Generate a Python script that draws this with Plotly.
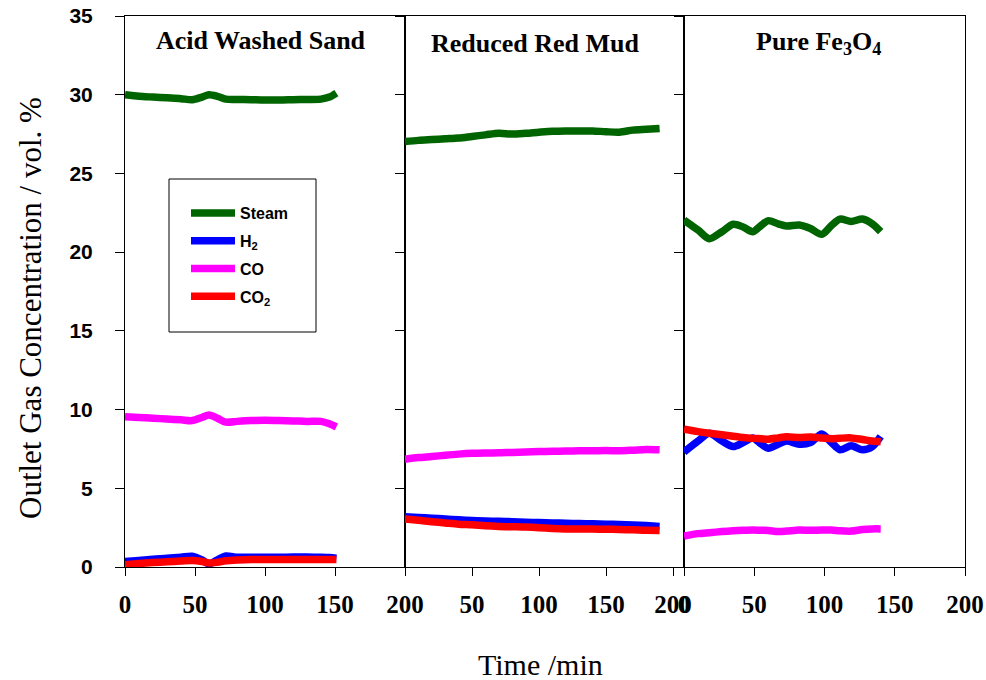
import plotly.graph_objects as go

# ---------------- data ----------------
series_names = ["Steam", "H<sub>2</sub>", "CO", "CO<sub>2</sub>"]
series_colors = ["#006400", "#0000FF", "#FF00FF", "#FF0000"]
panel_titles = ["<b>Acid Washed Sand</b>", "<b>Reduced Red Mud</b>",
                "<b>Pure Fe<sub>3</sub>O<sub>4</sub></b>"]
x_tick_vals = [0, 50, 100, 150, 200]
x_tick_text_p1 = ["0", "50", "100", "150", "200"]
x_tick_text_p2 = ["", "50", "100", "150", "200"]   # its "0" sits hidden under panel 1's "200"
x_tick_text_p3 = ["0", "50", "100", "150", "200"]
y_tick_vals = [0, 5, 10, 15, 20, 25, 30, 35]

# Panel 1 : Acid Washed Sand
t1 = [0, 10, 20, 30, 40, 48, 55, 60, 66, 72, 80, 90, 100, 110, 120, 130, 140, 146, 151]
steam1 = [30.0, 29.9, 29.85, 29.8, 29.75, 29.68, 29.85, 30.0, 29.9, 29.72, 29.7, 29.68,
          29.66, 29.66, 29.68, 29.7, 29.72, 29.85, 30.1]
h2_1 = [0.35, 0.42, 0.5, 0.55, 0.62, 0.68, 0.45, 0.2, 0.45, 0.7, 0.62, 0.62, 0.62,
        0.62, 0.63, 0.63, 0.62, 0.6, 0.55]
co_1 = [9.55, 9.5, 9.45, 9.4, 9.35, 9.3, 9.5, 9.65, 9.45, 9.2, 9.25, 9.3, 9.32, 9.3,
        9.28, 9.25, 9.25, 9.1, 8.9]
co2_1 = [0.15, 0.22, 0.28, 0.33, 0.38, 0.42, 0.35, 0.25, 0.3, 0.4, 0.45, 0.48, 0.48,
         0.48, 0.48, 0.48, 0.48, 0.48, 0.48]

# Panel 2 : Reduced Red Mud
t2 = [0, 10, 20, 30, 40, 50, 60, 70, 80, 90, 100, 110, 120, 130, 140, 150, 160, 170, 180, 190]
steam2 = [27.02, 27.1, 27.15, 27.2, 27.25, 27.35, 27.45, 27.55, 27.5, 27.55, 27.62, 27.68,
          27.7, 27.7, 27.7, 27.65, 27.62, 27.75, 27.8, 27.85]
h2_2 = [3.2, 3.15, 3.1, 3.05, 3.0, 2.95, 2.92, 2.9, 2.88, 2.85, 2.82, 2.8, 2.78, 2.76,
        2.74, 2.72, 2.7, 2.67, 2.63, 2.58]
co_2 = [6.85, 6.95, 7.02, 7.1, 7.17, 7.22, 7.24, 7.25, 7.28, 7.3, 7.33, 7.35, 7.37, 7.38,
        7.38, 7.4, 7.38, 7.42, 7.47, 7.45]
co2_2 = [3.05, 2.97, 2.88, 2.8, 2.72, 2.68, 2.62, 2.58, 2.56, 2.54, 2.5, 2.45, 2.42, 2.42,
         2.41, 2.4, 2.38, 2.36, 2.33, 2.32]

# Panel 3 : Pure Fe3O4
t3 = [0, 10, 18, 27, 35, 42, 49, 55, 60, 67, 73, 82, 90, 98, 105, 111, 119, 127, 134, 140]
steam3 = [22.04, 21.4, 20.85, 21.3, 21.77, 21.6, 21.3, 21.7, 22.0, 21.8, 21.66, 21.72,
          21.5, 21.13, 21.7, 22.1, 21.95, 22.1, 21.8, 21.3]
h2_3 = [7.3, 8.0, 8.5, 8.0, 7.65, 7.9, 8.2, 7.8, 7.55, 7.8, 8.0, 7.8, 7.9, 8.45, 7.9,
        7.45, 7.7, 7.45, 7.65, 8.3]
co_3 = [1.97, 2.12, 2.18, 2.25, 2.3, 2.33, 2.35, 2.33, 2.32, 2.25, 2.28, 2.35, 2.33, 2.35,
        2.35, 2.3, 2.28, 2.38, 2.42, 2.42]
co2_3 = [8.75, 8.6, 8.5, 8.4, 8.3, 8.22, 8.17, 8.15, 8.12, 8.2, 8.27, 8.22, 8.25, 8.2,
         8.15, 8.18, 8.2, 8.1, 8.0, 7.96]

panels = [
    (t1, [steam1, h2_1, co_1, co2_1], "x", "y"),
    (t2, [steam2, h2_2, co_2, co2_2], "x2", "y2"),
    (t3, [steam3, h2_3, co_3, co2_3], "x3", "y3"),
]

# ---------------- figure ----------------
fig = go.Figure()
for p, (t, ys, xa, ya) in enumerate(panels):
    for s, y in enumerate(ys):
        fig.add_trace(go.Scatter(
            x=t, y=y, mode="lines", xaxis=xa, yaxis=ya,
            name=series_names[s], legendgroup=series_names[s],
            showlegend=(p == 0),
            line=dict(color=series_colors[s], width=7.5, shape="spline", smoothing=0.8),
        ))

W, H = 986, 680
ml, mr, mt, mb = 125, 21, 16, 113
pw = W - ml - mr  # 840
ph = H - mt - mb  # 551


def px2x(px):
    return (px - ml) / pw


def px2y(py):
    return (H - mb - py) / ph


serif = "Liberation Serif, Times New Roman, serif"
sans = "Liberation Sans, Arial, sans-serif"


def xaxis_style(labels):
    return dict(tickmode="array", tickvals=x_tick_vals,
                ticktext=["<b>%s</b>" % s if s else "" for s in labels],
                ticks="outside", ticklen=8, tickwidth=1, tickcolor="black",
                showline=True, linecolor="black", linewidth=1, mirror=True,
                showgrid=False, zeroline=False,
                tickfont=dict(family=serif, size=25, color="black"),
                ticklabelstandoff=7, ticklabeloverflow="allow")


ycommon = dict(range=[0, 35], tickmode="array", tickvals=y_tick_vals,
               ticktext=["<b>%d</b>" % v for v in y_tick_vals],
               ticks="outside", ticklen=9, tickwidth=1, tickcolor="black",
               showline=True, linecolor="black", linewidth=1, mirror=True,
               showgrid=False, zeroline=False, ticklabeloverflow="allow")

d1 = px2x(405)
d2 = px2x(684)
fig.update_layout(
    xaxis=dict(domain=[0, d1], range=[0, 200], anchor="y", **xaxis_style(x_tick_text_p1)),
    xaxis2=dict(domain=[d1, d2], range=[0, 208.2], anchor="y2", **xaxis_style(x_tick_text_p2)),
    xaxis3=dict(domain=[d2, 1], range=[0, 200], anchor="y3", **xaxis_style(x_tick_text_p3)),
    yaxis=dict(anchor="x", tickfont=dict(family=sans, size=21, color="black"),
               ticklabelstandoff=18, **ycommon),
    yaxis2=dict(anchor="x2", showticklabels=False, **ycommon),
    yaxis3=dict(anchor="x3", showticklabels=False, **ycommon),
    width=W, height=H,
    margin=dict(l=ml, r=mr, t=mt, b=mb, autoexpand=False),
    plot_bgcolor="white", paper_bgcolor="white",
    showlegend=True,
    legend=dict(x=px2x(186), y=px2y(196), xanchor="left", yanchor="top",
                bgcolor="rgba(0,0,0,0)", borderwidth=0,
                font=dict(family=sans, size=16, color="black", weight="bold"),
                tracegroupgap=4, itemwidth=44),
)

# legend frame
fig.add_shape(type="rect", xref="paper", yref="paper",
              x0=px2x(169), x1=px2x(316), y0=px2y(332), y1=px2y(179),
              line=dict(color="black", width=1), fillcolor="rgba(0,0,0,0)")

# panel titles
title_pos = [(261, 40), (535, 43), (818, 43)]
for txt, (tx, ty) in zip(panel_titles, title_pos):
    fig.add_annotation(text=txt, x=px2x(tx), y=px2y(ty), xref="paper", yref="paper",
                       showarrow=False, xanchor="center", yanchor="middle",
                       font=dict(family=serif, size=26, color="black"))

# axis titles
fig.add_annotation(text="Time /min", x=px2x(540), y=px2y(664), xref="paper", yref="paper",
                   showarrow=False, xanchor="center", yanchor="middle",
                   font=dict(family=serif, size=30, color="black"))
fig.add_annotation(text="Outlet Gas Concentration / vol. %", x=px2x(30), y=px2y(308),
                   xref="paper", yref="paper", showarrow=False, textangle=-90,
                   xanchor="center", yanchor="middle",
                   font=dict(family=serif, size=31, color="black"))

# remove the default 8px page margin so the figure sits at the window's top-left corner
fig.write_html("out.html", config={"displayModeBar": False},
               post_script="document.body.style.margin='0px';")
